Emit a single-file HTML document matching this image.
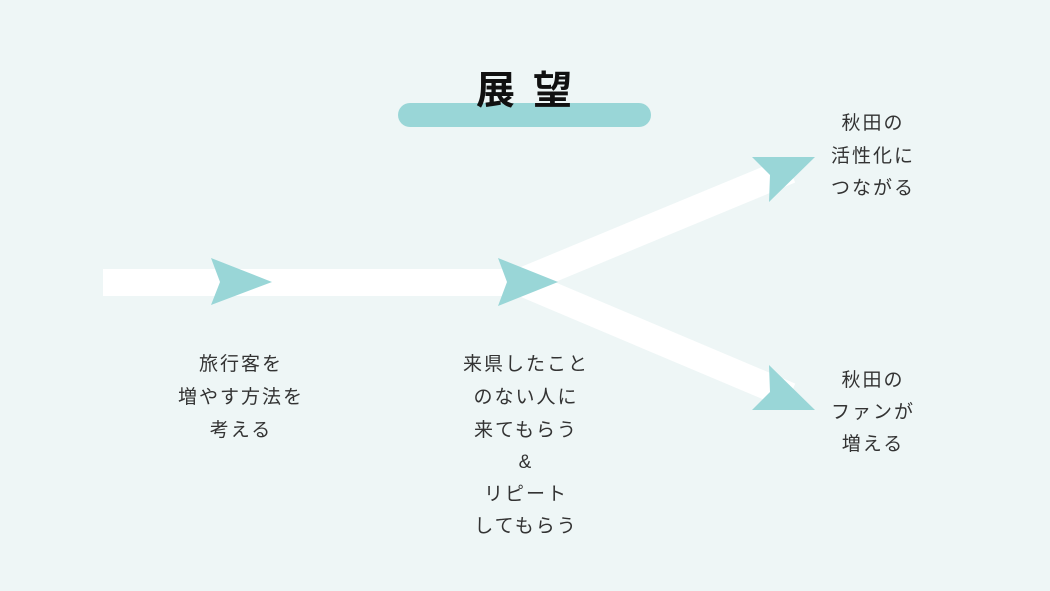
<!DOCTYPE html>
<html><head><meta charset="utf-8"><style>
html,body{margin:0;padding:0;background:#eef6f6;}
svg{display:block}
text{font-family:"Liberation Sans","Noto Sans CJK JP",sans-serif;fill:#333;font-size:19px;letter-spacing:2px;}
</style></head><body>
<svg width="1050" height="591" viewBox="0 0 1050 591">
<rect width="1050" height="591" fill="#eef6f6"/>
<rect x="398" y="103" width="253" height="24" rx="12" fill="#99d6d7"/>
<text x="533" y="104" text-anchor="middle" style="font-size:39px;font-weight:bold;fill:#111;letter-spacing:18px">展望</text>
<rect x="103" y="269" width="420" height="27" fill="#fff"/>
<line x1="520" y1="282" x2="790" y2="170" stroke="#fff" stroke-width="27"/>
<line x1="520" y1="282" x2="790" y2="396" stroke="#fff" stroke-width="27"/>
<polygon points="211,258 272,282 211,305 220,282" fill="#99d6d7"/>
<polygon points="498,258 558,282 498,306 507,282" fill="#99d6d7"/>
<polygon points="752,157 815,157 769,202 770,175" fill="#99d6d7"/>
<polygon points="769,365 815,410 752,410 770,392" fill="#99d6d7"/>
<g text-anchor="middle">
<text x="241" y="370">旅行客を</text>
<text x="241" y="403">増やす方法を</text>
<text x="241" y="436">考える</text>
<text x="526" y="370">来県したこと</text>
<text x="526" y="403">のない人に</text>
<text x="526" y="436">来てもらう</text>
<text x="526" y="468">&amp;</text>
<text x="526" y="500">リピート</text>
<text x="526" y="532">してもらう</text>
<text x="873" y="129">秋田の</text>
<text x="873" y="162">活性化に</text>
<text x="873" y="194">つながる</text>
<text x="873" y="386">秋田の</text>
<text x="873" y="418">ファンが</text>
<text x="873" y="450">増える</text>
</g>
</svg>
</body></html>
